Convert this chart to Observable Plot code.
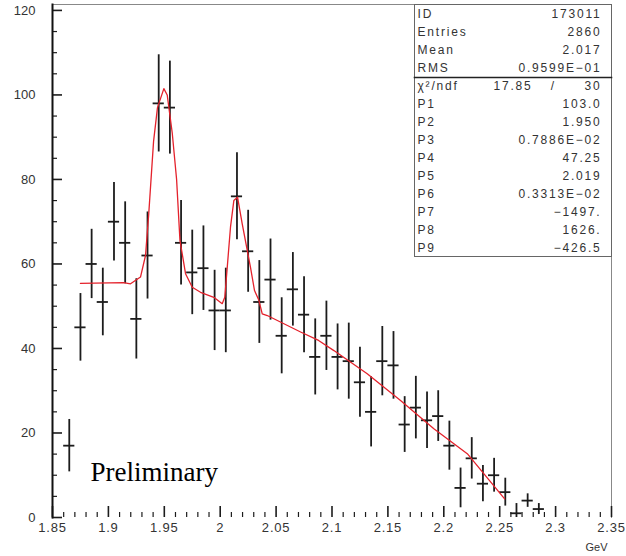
<!DOCTYPE html>
<html>
<head>
<meta charset="utf-8">
<script src="https://cdn.jsdelivr.net/npm/d3@7"></script>
<script src="https://cdn.jsdelivr.net/npm/@observablehq/plot@0.6"></script>
<style>
  body { margin: 0; background: #fff; }
</style>
</head>
<body>
<div id="chart"></div>
<script>
// Histogram bins (bin centres, GeV), contents and errors
const binWidth = 0.01;
const binCenters = [1.865, 1.875, 1.885, 1.895, 1.905, 1.915, 1.925, 1.935, 1.945, 1.955,
  1.965, 1.975, 1.985, 1.995, 2.005, 2.015, 2.025, 2.035, 2.045, 2.055,
  2.065, 2.075, 2.085, 2.095, 2.105, 2.115, 2.125, 2.135, 2.145, 2.155,
  2.165, 2.175, 2.185, 2.195, 2.205, 2.215, 2.225, 2.235, 2.245, 2.255,
  2.265, 2.275, 2.285];
const counts = [17, 45, 60, 51, 70, 65, 47, 62, 98, 97,
  65, 58, 59, 49, 49, 76, 63, 51, 56.3, 43,
  54, 48, 38, 43, 38, 37, 32, 25, 37, 36,
  22, 26, 23, 24, 17, 7, 14, 8, 10, 6,
  1, 4, 2];
const errors = [6.2, 8, 8.2, 8, 9.3, 9.7, 9.5, 10.3, 11.5, 11,
  10, 10, 10, 9.5, 10, 10.3, 9.7, 9.8, 9.6, 9,
  8.7, 9, 9, 8.2, 7.8, 9, 8.3, 8.3, 8.2, 8,
  6.6, 7.4, 6.7, 6, 5.8, 4.7, 4.9, 4.3, 4, 3.3,
  2.3, 1.6, 1.3];

// Fitted curve as drawn
const fitX = [1.875, 1.9135, 1.9198, 1.9287, 1.9332, 1.9361, 1.9404, 1.9439, 1.9496, 1.9526,
  1.9571, 1.9610, 1.9640, 1.9690, 1.9750, 1.9824, 1.9943, 2.0018, 2.0041, 2.0063,
  2.0092, 2.0122, 2.0155, 2.0197, 2.0242, 2.0271, 2.0307, 2.0346, 2.0376, 2.0421,
  2.0719, 2.0880, 2.1017, 2.1315, 2.1613, 2.1911, 2.2210, 2.2544];
const fitY = [55.4, 55.6, 55.3, 56.9, 62, 71.9, 89, 97, 101.5, 100,
  91, 80, 65.6, 57.7, 54.5, 53.3, 52.1, 50.6, 52.1, 59.2,
  68.7, 75, 75.8, 69.5, 63.2, 59.2, 53.7, 51.4, 48.2, 47.8,
  43.9, 41.9, 39.5, 34, 27.7, 21, 15.1, 4.4];

// Axis ticks
const xMajorTicks = [1.85, 1.9, 1.95, 2, 2.05, 2.1, 2.15, 2.2, 2.25, 2.3, 2.35];
const xMinorTicks = d3.range(0, 51).map(i => 1.85 + i * 0.01).filter((d, i) => i % 5 !== 0);
const yMajorTicks = [0, 20, 40, 60, 80, 100, 120];
const yMinorTicks = d3.range(0, 25).map(i => i * 5).filter(d => d % 20 !== 0);
const xUnit = "GeV";
const watermark = "Preliminary";

// Statistics box
const statLabels = ["ID", "Entries", "Mean", "RMS", "χ²/ndf", "P1", "P2", "P3", "P4", "P5", "P6", "P7", "P8", "P9"];
const statValues = ["173011", "2860", "2.017", "0.9599E−01", "30", "103.0", "1.950", "0.7886E−02",
  "47.25", "2.019", "0.3313E−02", "−1497.", "1626.", "−426.5"];
const chi2 = "17.85";

const W = 626, H = 556, mL = 52, mR = 15, mT = 4, mB = 39;
const xDomain = [1.85, 2.35], yDomain = [0, 121.4];
// tick lengths in pixels, converted to data units
const pxX = (xDomain[1] - xDomain[0]) / (W - mL - mR);
const pxY = (yDomain[1] - yDomain[0]) / (H - mT - mB);

const bins = binCenters.map((x, i) => ({x, n: counts[i], err: errors[i]}));
const fit = fitX.map((x, i) => ({x, y: fitY[i]}));

const ink = "#1c1c1c";
const rowH = 18;
const statOpts = {lineAnchor: "middle", fontSize: 12, fill: "#333"};
const statMarks = [];
statLabels.forEach((s, i) => {
  statMarks.push(Plot.text([s], {...statOpts, frameAnchor: "top-left", dx: 365, dy: 9.5 + rowH * i, textAnchor: "start"}));
  statMarks.push(Plot.text([statValues[i]], {...statOpts, frameAnchor: "top-right", dx: -10, dy: 9.5 + rowH * i, textAnchor: "end"}));
});
statMarks.push(Plot.text([chi2], {...statOpts, frameAnchor: "top-left", dx: 441, dy: 9.5 + rowH * 4, textAnchor: "start"}));
statMarks.push(Plot.text(["/"], {...statOpts, frameAnchor: "top-left", dx: 500, dy: 9.5 + rowH * 4, textAnchor: "middle"}));

const chart = Plot.plot({
  width: W,
  height: H,
  marginLeft: mL,
  marginRight: mR,
  marginTop: mT,
  marginBottom: mB,
  style: {fontFamily: "'Liberation Sans', Arial, sans-serif", fontSize: "13px", color: "#333", background: "#fff"},
  x: {domain: xDomain, label: null},
  y: {domain: yDomain, label: null},
  marks: [
    // frame: top and right thin grey, left axis thick
    Plot.frame({anchor: "top", stroke: "#888", strokeWidth: 1}),
    Plot.frame({anchor: "right", stroke: "#888", strokeWidth: 1}),
    // stats box
    Plot.frame({insetLeft: 362, insetBottom: 261, stroke: "#666", strokeWidth: 1, fill: "#fff"}),
    Plot.frame({anchor: "bottom", insetLeft: 362, insetBottom: 440, stroke: "#222", strokeWidth: 1.6}),
    ...statMarks,
    // ticks pointing inward
    Plot.ruleX(xMajorTicks, {x: d => d, y1: 0, y2: 11 * pxY, stroke: ink, strokeWidth: 1.6}),
    Plot.ruleX(xMinorTicks, {x: d => d, y1: 0, y2: 5 * pxY, stroke: ink, strokeWidth: 1.2}),
    Plot.ruleY(yMajorTicks, {y: d => d, x1: xDomain[0], x2: xDomain[0] + 10 * pxX, stroke: ink, strokeWidth: 1.6}),
    Plot.ruleY(yMinorTicks, {y: d => d, x1: xDomain[0], x2: xDomain[0] + 5 * pxX, stroke: ink, strokeWidth: 1.2}),
    Plot.frame({anchor: "left", stroke: "#111", strokeWidth: 2}),
    Plot.axisX({ticks: xMajorTicks, tickSize: 0, tickPadding: 5, tickFormat: d => String(d), label: null, fontSize: 13, fill: "#333"}),
    Plot.axisY({ticks: yMajorTicks, tickSize: 0, tickPadding: 17, tickFormat: d => String(d), label: null, fontSize: 13, fill: "#333"}),
    Plot.text([xUnit], {frameAnchor: "bottom-right", dx: -4, dy: 30, textAnchor: "end", lineAnchor: "middle", fontSize: 11, fill: "#333"}),
    // data: error bars and bin-width crosses
    Plot.ruleX(bins, {x: "x", y1: d => Math.max(0, d.n - d.err), y2: d => d.n + d.err, stroke: ink, strokeWidth: 1.8}),
    Plot.ruleY(bins, {y: "n", x1: d => d.x - binWidth / 2, x2: d => d.x + binWidth / 2, stroke: ink, strokeWidth: 1.8}),
    // fit
    Plot.line(fit, {x: "x", y: "y", stroke: "#e4222c", strokeWidth: 1.3}),
    // watermark
    Plot.text([watermark], {frameAnchor: "bottom-left", dx: 38, dy: -37, textAnchor: "start", lineAnchor: "bottom",
      fontSize: 27, fontFamily: "'Liberation Serif', 'Times New Roman', serif", fill: "#000"})
  ]
});
// wider spacing for the PAW-style stats font
const statSet = new Set([...statLabels, ...statValues, chi2]);
d3.select(chart).selectAll("text")
  .filter(function () { return statSet.has(this.textContent) && this.closest('g[aria-label="text"]'); })
  .attr("letter-spacing", "1.8px");
d3.select(chart).selectAll('g[aria-label="x-axis tick label"] text').attr("letter-spacing", "0.8px");
document.getElementById("chart").appendChild(chart);
</script>
</body>
</html>
